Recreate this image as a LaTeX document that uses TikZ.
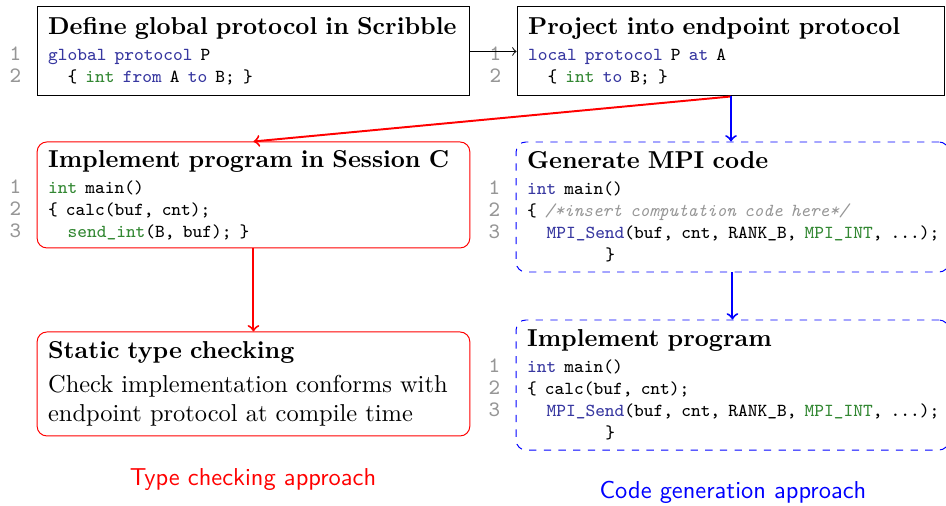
\documentclass[tikz,border=0pt]{standalone}
\usepackage{fontspec}

\definecolor{kwblue}{RGB}{55,55,160}
\definecolor{tygreen}{RGB}{50,135,50}
\definecolor{numgray}{RGB}{150,150,150}

\newcommand{\codefont}{\fontsize{7.5}{9}\selectfont\ttfamily}
\newcommand{\kw}[1]{\textcolor{kwblue}{#1}}
\newcommand{\ty}[1]{\textcolor{tygreen}{#1}}
\newcommand{\cmt}[1]{\textcolor{numgray}{\itshape #1}}
\newcommand{\lno}[1]{\leavevmode\llap{\textcolor{numgray}{\fontsize{9}{9}\selectfont #1}\hspace{11pt}}}
\newcommand{\stagetitle}[1]{\mbox{\bfseries #1}\par\vspace{1.6pt}}

\tikzset{
  stage/.style={draw, inner xsep=4.5pt, text width=168pt, align=left},
  typed/.style={stage, draw=red, rounded corners=4pt},
  gencode/.style={stage, draw=blue, dashed, rounded corners=4pt},
}

\begin{document}
\begin{tikzpicture}
    \useasboundingbox (0,0) rectangle (13.60,-7.274);

    \node[stage, minimum height=1.28cm] (glob) at (3.644,-0.74) {\stagetitle{Define global protocol in Scribble}
      \codefont
      \lno{1}\kw{global} \kw{protocol} P\\
      \lno{2}\phantom{xx}\{ \ty{int} \kw{from} A \kw{to} B; \}\par};
    \node[stage, text width=166pt, minimum height=1.28cm] (proj) at (10.509,-0.74) {\stagetitle{Project into endpoint protocol}
      \codefont
      \lno{1}\kw{local} \kw{protocol} P \kw{at} A\\
      \lno{2}\phantom{xx}\{ \ty{int} \kw{to} B; \}\par};

    \node[typed, minimum height=1.524cm] (impl) at (3.644,-2.803) {\stagetitle{Implement program in Session C}
      \codefont
      \lno{1}\ty{int} main()\\
      \lno{2}\{ calc(buf, cnt);\\
      \lno{3}\phantom{xx}\ty{send\_int}(B, buf); \}\par};
    \node[typed, minimum height=1.495cm] (stc) at (3.644,-5.52) {\stagetitle{Static type checking}
      Check implementation conforms with endpoint protocol at compile time};

    \node[gencode, minimum height=1.869cm] (mpi) at (10.53,-2.976) {\stagetitle{Generate MPI code}
      \codefont
      \lno{1}\kw{int} main()\\
      \lno{2}\{ \cmt{/*insert computation code here*/}\\
      \lno{3}\mbox{\phantom{xx}\kw{MPI\_Send}(buf, cnt, RANK\_B, \ty{MPI\_INT}, ...);}\\
      \hspace*{32pt}\}\par};
    \node[gencode, minimum height=1.869cm] (prog) at (10.53,-5.535) {\stagetitle{Implement program}
      \codefont
      \lno{1}\kw{int} main()\\
      \lno{2}\{ calc(buf, cnt);\\
      \lno{3}\mbox{\phantom{xx}\kw{MPI\_Send}(buf, cnt, RANK\_B, \ty{MPI\_INT}, ...);}\\
      \hspace*{32pt}\}\par};

    \draw[->] (glob) -- (proj);
    \draw[->, red, thick] (proj.south) -- (impl.north);
    \draw[->, blue, thick] (proj.south) -- (proj.south |- mpi.north);
    \draw[->, red, thick] (impl) -- (stc);
    \draw[->, blue, thick] (mpi.south) -- (mpi.south |- prog.north);

    \node[red, font=\sffamily] (tclabel) at (3.637,-6.90) {Type checking approach};
    \node[blue, font=\sffamily] (cglabel) at (10.537,-7.073) {Code generation approach};
\end{tikzpicture}
\end{document}
